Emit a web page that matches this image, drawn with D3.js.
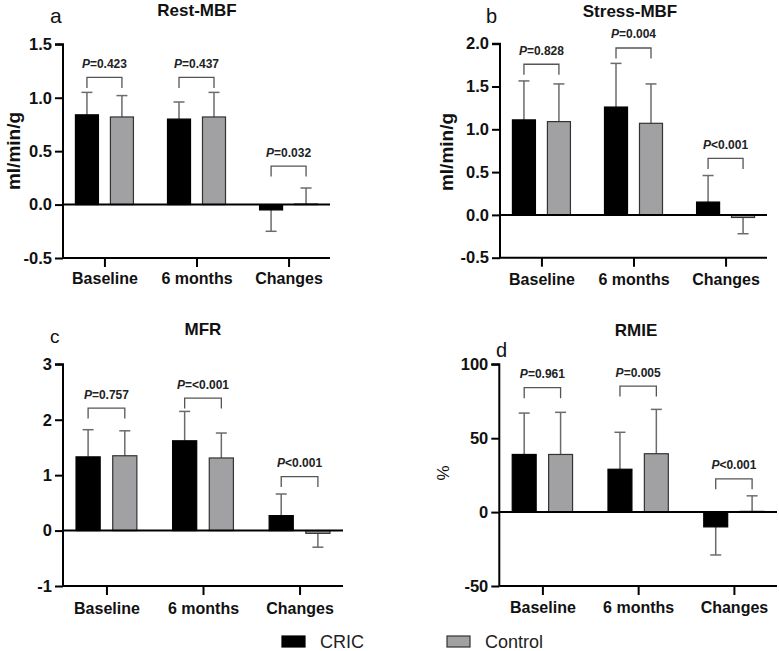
<!DOCTYPE html>
<html><head><meta charset="utf-8">
<script src="https://cdn.jsdelivr.net/npm/d3@7"></script>
<style>
html,body{margin:0;padding:0;background:#fff;}
svg{display:block;font-family:"Liberation Sans",Arial,sans-serif;}
</style></head>
<body>
<svg id="chart" width="779" height="651"></svg>
<script>
// ---------- data ----------
const categories = ["Baseline", "6 months", "Changes"];
const seriesNames = ["CRIC", "Control"];

const restCRIC = [0.84, 0.80, -0.05];
const restCRICsd = [0.21, 0.16, 0.20];
const restControl = [0.82, 0.82, 0.005];
const restControlSd = [0.20, 0.23, 0.15];
const restP = ["=0.423", "=0.437", "=0.032"];
const restBracket = [1.19, 1.19, 0.36];
const restTicks = [-0.5, 0.0, 0.5, 1.0, 1.5];

const stressCRIC = [1.11, 1.26, 0.15];
const stressCRICsd = [0.455, 0.51, 0.31];
const stressControl = [1.09, 1.07, -0.03];
const stressControlSd = [0.44, 0.46, 0.19];
const stressP = ["=0.828", "=0.004", "<0.001"];
const stressBracket = [1.76, 1.95, 0.66];
const stressTicks = [-0.5, 0.0, 0.5, 1.0, 1.5, 2.0];

const mfrCRIC = [1.33, 1.62, 0.27];
const mfrCRICsd = [0.49, 0.53, 0.39];
const mfrControl = [1.35, 1.31, -0.05];
const mfrControlSd = [0.45, 0.45, 0.25];
const mfrP = ["=0.757", "=<0.001", "<0.001"];
const mfrBracket = [2.21, 2.39, 0.975];
const mfrTicks = [-1, 0, 1, 2, 3];

const rmieCRIC = [39, 29, -10];
const rmieCRICsd = [28, 25, 19];
const rmieControl = [39, 39.5, 0.5];
const rmieControlSd = [28.5, 30, 10.5];
const rmieP = ["=0.961", "=0.005", "<0.001"];
const rmieBracket = [84.2, 85.3, 22.5];
const rmieTicks = [-50, 0, 50, 100];

// ---------- styling ----------
const colors = {CRIC: "#000000", Control: "#a1a1a4"};
const FONT = '"Liberation Sans",Arial,sans-serif';
const hy = f => (v => f(v).replace("\u2212", "-"));

const panels = [
  {letter:"a", lx:50, ly:23, lsize:21, title:"Rest-MBF", tx:197, ty:16, ylabel:"ml/min/g", ylx:13, yly:151,
   x0:63, x1:330, yTop:44.3, yBot:258, domain:[-0.5,1.5], ticks:restTicks, fmt:hy(d3.format(".1f")),
   a:restCRIC, asd:restCRICsd, b:restControl, bsd:restControlSd, p:restP, br:restBracket, labelY:284},
  {letter:"b", lx:486, ly:23, lsize:20, title:"Stress-MBF", tx:630, ty:17, ylabel:"ml/min/g", ylx:446, yly:152,
   x0:500, x1:767, yTop:43.7, yBot:257.7, domain:[-0.5,2.0], ticks:stressTicks, fmt:hy(d3.format(".1f")),
   a:stressCRIC, asd:stressCRICsd, b:stressControl, bsd:stressControlSd, p:stressP, br:stressBracket, labelY:285},
  {letter:"c", lx:50, ly:343, lsize:19, title:"MFR", tx:203, ty:335, ylabel:null,
   x0:63, x1:343, yTop:364.3, yBot:586, domain:[-1,3], ticks:mfrTicks, fmt:hy(d3.format("d")),
   a:mfrCRIC, asd:mfrCRICsd, b:mfrControl, bsd:mfrControlSd, p:mfrP, br:mfrBracket, labelY:614},
  {letter:"d", lx:496, ly:357, lsize:20, title:"RMIE", tx:636, ty:336, ylabel:"%", ylx:443, yly:473,
   x0:499.3, x1:777, yTop:364.3, yBot:586, domain:[-50,100], ticks:rmieTicks, fmt:hy(d3.format("d")),
   a:rmieCRIC, asd:rmieCRICsd, b:rmieControl, bsd:rmieControlSd, p:rmieP, br:rmieBracket, labelY:613}
];

const svg = d3.select("#chart");

panels.forEach(P => {
  const g = svg.append("g");
  const x = d3.scalePoint().domain(categories).range([P.x0, P.x1]).padding(0.45);
  const step = x.step();
  const barW = step * 0.25;
  const off = step * 0.19;
  const y = d3.scaleLinear().domain(P.domain).range([P.yBot, P.yTop]);
  const inner = d3.scaleOrdinal().domain(seriesNames).range([-off, off]);

  // y axis
  const yAxis = d3.axisLeft(y).tickValues(P.ticks).tickFormat(P.fmt).tickSize(8).tickPadding(3);
  const ya = g.append("g").attr("transform", `translate(${P.x0},0)`).call(yAxis);
  ya.select(".domain").attr("stroke", "#000").attr("stroke-width", 2).attr("d", `M-8,${y(P.domain[1])}H0V${y(P.domain[0])}`);
  ya.selectAll(".tick line").attr("stroke", "#000").attr("stroke-width", 2);
  ya.selectAll(".tick text").attr("fill", "#111").style("font-family", FONT).style("font-size", "16.5px").style("font-weight", "bold");

  // x axis at bottom
  const xAxis = d3.axisBottom(x).tickSize(9).tickPadding(8);
  const xa = g.append("g").attr("transform", `translate(0,${P.yBot})`).call(xAxis);
  xa.select(".domain").attr("stroke", "#000").attr("stroke-width", 2).attr("d", `M${P.x0},0H${P.x1}`);
  xa.selectAll(".tick line").attr("stroke", "#000").attr("stroke-width", 2);
  xa.selectAll(".tick text").attr("fill", "#111").attr("dy", null).attr("y", P.labelY - P.yBot)
    .style("font-family", FONT).style("font-size", "16px").style("font-weight", "bold");

  // data rows
  const rows = [];
  categories.forEach((c, i) => {
    rows.push({cat:c, s:"CRIC", v:P.a[i], sd:P.asd[i]});
    rows.push({cat:c, s:"Control", v:P.b[i], sd:P.bsd[i]});
  });

  // error bars
  const eg = g.append("g");
  rows.forEach(r => {
    const cx = x(r.cat) + inner(r.s);
    const end = r.v >= 0 ? r.v + r.sd : r.v - r.sd;
    eg.append("line").attr("x1", cx).attr("x2", cx).attr("y1", y(r.v)).attr("y2", y(end))
      .attr("stroke", "#6b6b6b").attr("stroke-width", 1.5);
    eg.append("line").attr("x1", cx - 5.5).attr("x2", cx + 5.5).attr("y1", y(end)).attr("y2", y(end))
      .attr("stroke", "#6b6b6b").attr("stroke-width", 1.5);
  });

  // bars
  g.append("g").selectAll("rect").data(rows).join("rect")
    .attr("x", d => x(d.cat) + inner(d.s) - barW / 2)
    .attr("width", barW)
    .attr("y", d => Math.min(y(d.v), y(0)))
    .attr("height", d => Math.abs(y(d.v) - y(0)))
    .attr("fill", d => colors[d.s])
    .attr("stroke", d => d.s === "CRIC" ? "#000" : "#333")
    .attr("stroke-width", 1.2);

  // zero line
  g.append("line").attr("x1", P.x0).attr("x2", P.x1).attr("y1", y(0)).attr("y2", y(0))
    .attr("stroke", "#000").attr("stroke-width", 2);

  // brackets and P labels
  categories.forEach((c, i) => {
    const xl = x(c) + inner("CRIC");
    const xr = x(c) + inner("Control");
    const yt = y(P.br[i]);
    g.append("path").attr("d", `M${xl},${yt + 10.5}V${yt}H${xr}V${yt + 10.5}`)
      .attr("fill", "none").attr("stroke", "#555").attr("stroke-width", 1.3);
    const t = g.append("text").attr("x", (xl + xr) / 2).attr("y", yt - 9.5)
      .attr("text-anchor", "middle").attr("fill", "#222")
      .style("font-family", FONT).style("font-size", "12px").style("font-weight", "bold");
    t.append("tspan").style("font-style", "italic").text("P");
    t.append("tspan").text(P.p[i]);
  });

  // title
  g.append("text").attr("x", P.tx).attr("y", P.ty).attr("text-anchor", "middle").attr("fill", "#111")
    .style("font-family", FONT).style("font-size", "17px").style("font-weight", "bold").text(P.title);
  // panel letter
  g.append("text").attr("x", P.lx).attr("y", P.ly).attr("fill", "#111")
    .style("font-family", FONT).style("font-size", P.lsize + "px").text(P.letter);
  // y label
  if (P.ylabel) {
    g.append("text").attr("transform", `translate(${P.ylx},${P.yly}) rotate(-90)`)
      .attr("text-anchor", "middle").attr("dy", "0.35em").attr("fill", "#111")
      .style("font-family", FONT).style("font-size", P.ylabel === "%" ? "17px" : "19px")
      .style("font-weight", P.ylabel === "%" ? "normal" : "bold").text(P.ylabel);
  }
});

// legend
const legendX = d3.scaleOrdinal().domain(seriesNames).range([282, 447]);
const lg = svg.append("g");
seriesNames.forEach(s => {
  lg.append("rect").attr("x", legendX(s)).attr("y", 636).attr("width", 23).attr("height", 11)
    .attr("fill", colors[s]).attr("stroke", s === "CRIC" ? "#000" : "#333").attr("stroke-width", 1.2);
  lg.append("text").attr("x", legendX(s) + 38).attr("y", 647.5).attr("fill", "#222")
    .style("font-family", FONT).style("font-size", "18px").text(s);
});
</script>
</body></html>
